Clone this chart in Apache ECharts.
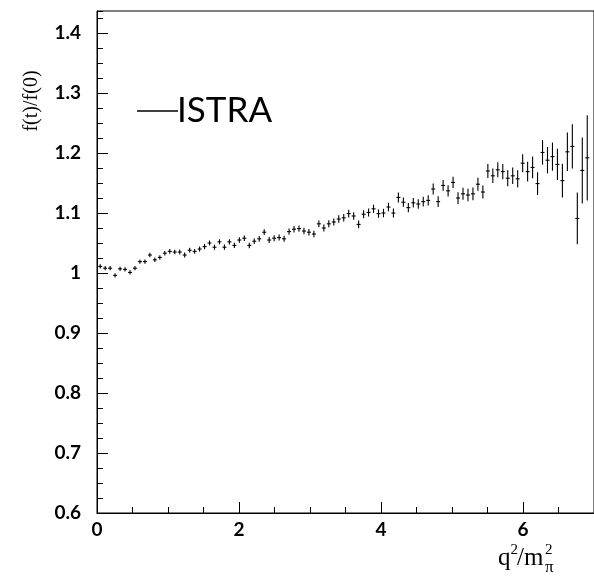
<!DOCTYPE html>
<html>
<head>
<meta charset="utf-8">
<title>ISTRA f(t)/f(0)</title>
<script src="https://cdn.jsdelivr.net/npm/echarts@6/dist/echarts.min.js"></script>
<style>
    html, body { margin: 0; padding: 0; background: #fff; }
    #chart { width: 594px; height: 581px; }
</style>
</head>
<body>
<div id="chart"></div>
<script>
// bin centres in q^2/m_pi^2
var binCentres = [
    0.045, 0.115, 0.185, 0.255, 0.325, 0.395, 0.465, 0.535, 0.605, 0.675,
    0.745, 0.815, 0.885, 0.955, 1.025, 1.095, 1.165, 1.235, 1.305, 1.375,
    1.445, 1.515, 1.585, 1.655, 1.725, 1.795, 1.865, 1.935, 2.005, 2.075,
    2.145, 2.215, 2.285, 2.355, 2.425, 2.495, 2.565, 2.635, 2.705, 2.775,
    2.845, 2.915, 2.985, 3.055, 3.125, 3.195, 3.265, 3.335, 3.405, 3.475,
    3.545, 3.615, 3.685, 3.755, 3.825, 3.895, 3.965, 4.035, 4.105, 4.175,
    4.245, 4.315, 4.385, 4.455, 4.525, 4.595, 4.665, 4.735, 4.805, 4.875,
    4.945, 5.015, 5.085, 5.155, 5.225, 5.295, 5.365, 5.435, 5.505, 5.575,
    5.645, 5.715, 5.785, 5.855, 5.925, 5.995, 6.065, 6.135, 6.205, 6.275,
    6.345, 6.415, 6.485, 6.555, 6.625, 6.695, 6.765, 6.835, 6.905
];

// f(t)/f(0)
var ratio = [
    1.011, 1.008, 1.008, 0.996, 1.007, 1.006, 1.001, 1.008, 1.019, 1.019,
    1.030, 1.022, 1.026, 1.033, 1.036, 1.035, 1.035, 1.030, 1.038, 1.036,
    1.040, 1.044, 1.050, 1.043, 1.052, 1.043, 1.052, 1.046, 1.055, 1.058,
    1.046, 1.053, 1.057, 1.068, 1.055, 1.058, 1.059, 1.057, 1.069, 1.073,
    1.074, 1.070, 1.068, 1.065, 1.082, 1.075, 1.082, 1.085, 1.090, 1.092,
    1.099, 1.095, 1.081, 1.098, 1.101, 1.107, 1.099, 1.100, 1.110, 1.100,
    1.126, 1.118, 1.109, 1.117, 1.115, 1.119, 1.121, 1.140, 1.119, 1.146,
    1.137, 1.151, 1.125, 1.132, 1.130, 1.132, 1.148, 1.135, 1.170, 1.162,
    1.172, 1.169, 1.158, 1.162, 1.157, 1.183, 1.169, 1.176, 1.149, 1.201,
    1.188, 1.194, 1.181, 1.154, 1.202, 1.211, 1.091, 1.171, 1.192
];

// statistical error (half length of the bar)
var ratioErr = [
    0.0035, 0.0035, 0.0035, 0.0035, 0.0035, 0.0036, 0.0036, 0.0036, 0.0037, 0.0037,
    0.0037, 0.0038, 0.0038, 0.0038, 0.0039, 0.0039, 0.004, 0.004, 0.004, 0.0041,
    0.0041, 0.0042, 0.0042, 0.0043, 0.0043, 0.0044, 0.0044, 0.0045, 0.0045, 0.0046,
    0.0046, 0.0047, 0.0048, 0.0048, 0.0049, 0.005, 0.005, 0.0051, 0.0052, 0.0053,
    0.0053, 0.0054, 0.0055, 0.0056, 0.0057, 0.0058, 0.0059, 0.006, 0.0061, 0.0062,
    0.0063, 0.0064, 0.0065, 0.0066, 0.0067, 0.0068, 0.007, 0.0071, 0.0072, 0.0074,
    0.0083, 0.0077, 0.0078, 0.008, 0.0081, 0.0083, 0.0085, 0.009, 0.0089, 0.0091,
    0.0093, 0.0095, 0.0098, 0.010, 0.0103, 0.0106, 0.0109, 0.011, 0.0116, 0.012,
    0.0124, 0.0128, 0.0133, 0.0138, 0.0144, 0.015, 0.0165, 0.018, 0.019, 0.0205,
    0.022, 0.0235, 0.026, 0.028, 0.032, 0.037, 0.043, 0.055, 0.071
];

var xTickLabels = [0, 2, 4, 6];
var yTickLabels = [0.6, 0.7, 0.8, 0.9, 1, 1.1, 1.2, 1.3, 1.4];

var halfBin = 0.028;
var tickFont = {fontFamily: 'Lato', fontWeight: 'bold', fontSize: 19, color: '#000'};
var titleFont = 'Liberation Serif';

function pickLabel(list, digits) {
    return function (v) {
        var r = Math.round(v * digits) / digits;
        return list.indexOf(r) >= 0 && Math.abs(r - v) < 1e-6 ? String(r) : '';
    };
}

var chart = echarts.init(document.getElementById('chart'), null, {renderer: 'canvas'});

var option = {
    animation: false,
    backgroundColor: '#fff',
    grid: {
        left: 97, top: 11, width: 501, height: 502,
        show: true, borderColor: '#000', borderWidth: 1, backgroundColor: 'transparent'
    },
    xAxis: [{
        type: 'value', min: 0, max: 7, interval: 2,
        axisLine: {show: true, lineStyle: {color: '#000', width: 1}},
        axisTick: {show: true, inside: true, length: 11, lineStyle: {color: '#000'}},
        axisLabel: Object.assign({margin: 7, showMaxLabel: false, formatter: pickLabel(xTickLabels, 1)}, tickFont),
        splitLine: {show: false}
    }, {
        // minor ticks every 0.5
        type: 'value', min: 0, max: 7, interval: 0.5, position: 'bottom', offset: 0,
        axisLine: {show: false},
        axisTick: {show: true, inside: true, length: 6, lineStyle: {color: '#000'}},
        axisLabel: {show: false},
        splitLine: {show: false}
    }],
    yAxis: [{
        type: 'value', min: 0.6, max: 1.4367, interval: 0.1,
        axisLine: {show: true, lineStyle: {color: '#000', width: 1}},
        axisTick: {show: true, inside: true, length: 11, lineStyle: {color: '#000'}},
        axisLabel: Object.assign({margin: 16, showMaxLabel: false, formatter: pickLabel(yTickLabels, 10)}, tickFont),
        splitLine: {show: false}
    }, {
        // minor ticks every 0.025
        type: 'value', min: 0.6, max: 1.4367, interval: 0.025, position: 'left', offset: 0,
        axisLine: {show: false},
        axisTick: {show: true, inside: true, length: 6, lineStyle: {color: '#000'}},
        axisLabel: {show: false},
        splitLine: {show: false}
    }],
    series: [{
        name: 'ISTRA',
        type: 'custom',
        xAxisIndex: 0,
        yAxisIndex: 0,
        data: binCentres.map(function (x, i) {
            return [x, ratio[i], ratioErr[i]];
        }),
        renderItem: function (params, api) {
            var x = api.value(0), y = api.value(1), e = api.value(2);
            var top = api.coord([x, y + e]), bot = api.coord([x, y - e]);
            var l = api.coord([x - halfBin, y]), r = api.coord([x + halfBin, y]);
            var st = {stroke: '#000', lineWidth: 1.1};
            return {
                type: 'group',
                children: [
                    {type: 'line', shape: {x1: top[0], y1: top[1], x2: bot[0], y2: bot[1]}, style: st},
                    {type: 'line', shape: {x1: l[0], y1: l[1], x2: r[0], y2: r[1]}, style: st}
                ]
            };
        }
    }],
    graphic: [
        // legend
        {type: 'line', shape: {x1: 137, y1: 111, x2: 178, y2: 111}, style: {stroke: '#000', lineWidth: 1.3}},
        {type: 'text', x: 177, y: 111, style: {text: 'ISTRA', fontFamily: 'Lato', fontSize: 35, fill: '#000', verticalAlign: 'middle'}},
        // y title
        {type: 'text', x: 32, y: 101, rotation: Math.PI / 2,
            style: {text: 'f(t)/f(0)', fontFamily: titleFont, fontSize: 20, fill: '#000', align: 'center', verticalAlign: 'middle'}},
        // x title q^2/m_pi^2
        {type: 'text', x: 498, y: 558, style: {text: 'q', fontFamily: titleFont, fontSize: 25, fill: '#000', verticalAlign: 'middle'}},
        {type: 'text', x: 510.5, y: 550, style: {text: '2', fontFamily: titleFont, fontSize: 15, fill: '#000', verticalAlign: 'middle'}},
        {type: 'text', x: 517, y: 558, style: {text: '/m', fontFamily: titleFont, fontSize: 25, fill: '#000', verticalAlign: 'middle'}},
        {type: 'text', x: 545, y: 550, style: {text: '2', fontFamily: titleFont, fontSize: 15, fill: '#000', verticalAlign: 'middle'}},
        {type: 'text', x: 545, y: 568, style: {text: 'π', fontFamily: titleFont, fontSize: 17, fill: '#000', verticalAlign: 'middle'}}
    ]
};

chart.setOption(option);
</script>
</body>
</html>
